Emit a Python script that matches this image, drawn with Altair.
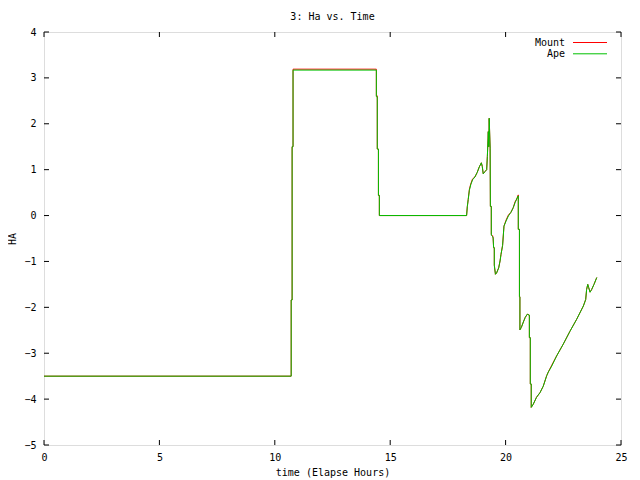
import altair as alt
import pandas as pd

# Ape track (time in elapsed hours, HA)
ape_t = [0, 10.71, 10.71, 10.75, 10.75, 10.79, 10.79, 14.40, 14.40, 14.44, 14.44, 14.49, 14.49, 14.53, 14.53,
         18.31, 18.34, 18.38, 18.43, 18.49, 18.57, 18.67, 18.77, 18.86, 18.95, 18.99, 19.03, 19.11, 19.18,
         19.21, 19.25, 19.27, 19.29, 19.33, 19.34, 19.38, 19.38, 19.44, 19.46, 19.48, 19.51, 19.51, 19.56,
         19.61, 19.70, 19.76, 19.80, 19.87, 19.93, 20.02, 20.12, 20.23, 20.33, 20.41, 20.48, 20.55, 20.55,
         20.60, 20.60, 20.62, 20.62, 20.68, 20.77, 20.85, 20.94, 21.03, 21.03, 21.07, 21.07, 21.11, 21.11,
         21.20, 21.34, 21.49, 21.63, 21.78, 21.85, 22.00, 22.21, 22.50, 22.79, 23.08, 23.37, 23.47, 23.51,
         23.56, 23.60, 23.66, 23.73, 23.83, 23.95]
ape_ha = [-3.5, -3.5, -1.84, -1.84, 1.5, 1.5, 3.17, 3.17, 2.59, 2.59, 1.45, 1.45, 0.44, 0.44, 0.0,
          0.0, 0.19, 0.35, 0.55, 0.67, 0.78, 0.84, 0.94, 1.06, 1.15, 1.07, 0.91, 0.96, 1.0,
          1.29, 1.83, 1.50, 2.12, 1.47, 0.2, 0.2, -0.43, -0.46, -0.49, -0.70, -0.70, -1.08, -1.28,
          -1.25, -1.14, -0.99, -0.85, -0.65, -0.23, -0.12, -0.01, 0.07, 0.17, 0.28, 0.36, 0.43, -0.30,
          -0.30, -1.77, -1.77, -2.49, -2.44, -2.32, -2.22, -2.15, -2.17, -2.66, -2.66, -3.67, -3.67, -4.18,
          -4.11, -3.96, -3.86, -3.72, -3.49, -3.41, -3.28, -3.06, -2.80, -2.52, -2.26, -1.97, -1.83, -1.61,
          -1.50, -1.57, -1.67, -1.61, -1.50, -1.35]

# Mount track (nearly identical)
mount_t = list(ape_t)
mount_ha = [-3.5, -3.5, -1.84, -1.84, 1.5, 1.5, 3.19, 3.19, 2.61, 2.61, 1.45, 1.45, 0.44, 0.44, 0.0,
            0.0, 0.19, 0.35, 0.57, 0.69, 0.80, 0.84, 0.94, 1.06, 1.15, 1.07, 0.91, 0.96, 1.0,
            1.29, 1.83, 1.50, 2.12, 1.47, 0.2, 0.2, -0.41, -0.44, -0.49, -0.70, -0.70, -1.08, -1.28,
            -1.25, -1.14, -0.99, -0.85, -0.65, -0.23, -0.10, 0.01, 0.07, 0.17, 0.30, 0.36, 0.45, -0.30,
            -0.30, -1.77, -1.77, -2.49, -2.44, -2.32, -2.22, -2.15, -2.17, -2.66, -2.66, -3.67, -3.67, -4.18,
            -4.11, -3.96, -3.86, -3.72, -3.49, -3.41, -3.26, -3.06, -2.80, -2.52, -2.26, -1.97, -1.83, -1.61,
            -1.50, -1.57, -1.67, -1.61, -1.50, -1.35]

x_ticks = [0, 5, 10, 15, 20, 25]
y_ticks = [-5, -4, -3, -2, -1, 0, 1, 2, 3, 4]
series_names = ["Mount", "Ape"]
series_colors = ["#ff0000", "#00c000"]

W, H = 577, 413
FONT = "DejaVu Sans Mono"
FS = 10
TL = 5

rows = []
for i, (t, h) in enumerate(zip(mount_t, mount_ha)):
    rows.append({"series": "Mount", "t": t, "ha": h, "o": i})
for i, (t, h) in enumerate(zip(ape_t, ape_ha)):
    rows.append({"series": "Ape", "t": t, "ha": h, "o": i})
df = pd.DataFrame(rows)

xs = alt.Scale(domain=[0, 25], nice=False, zero=False)
ys = alt.Scale(domain=[-5, 4], nice=False, zero=False)

lines = alt.Chart(df).mark_line(strokeWidth=1, interpolate="linear").encode(
    x=alt.X("t:Q", scale=xs,
            axis=alt.Axis(values=x_ticks, title="time (Elapse Hours)", grid=False, domain=False,
                          ticks=False, labelPadding=7, titlePadding=5, labelFont=FONT,
                          labelFontSize=FS, titleFont=FONT, titleFontSize=FS, titleFontWeight="normal",
                          labelColor="black", titleColor="black", labelFlush=False)),
    y=alt.Y("ha:Q", scale=ys,
            axis=alt.Axis(values=y_ticks, title="HA", grid=False, domain=False, ticks=False,
                          labelPadding=8, titlePadding=6, labelFont=FONT, labelFontSize=FS,
                          titleFont=FONT, titleFontSize=FS, titleFontWeight="normal",
                          labelColor="black", titleColor="black", labelFlush=False)),
    color=alt.Color("series:N", scale=alt.Scale(domain=series_names, range=series_colors), legend=None),
    detail="series:N",
    order="o:Q",
)

xt = pd.DataFrame({"v": x_ticks})
yt = pd.DataFrame({"v": y_ticks})
tick_x_bottom = alt.Chart(xt).mark_rule(color="black", strokeWidth=1).encode(
    x=alt.X("v:Q", scale=xs), y=alt.value(H), y2=alt.value(H - TL))
tick_x_top = alt.Chart(xt).mark_rule(color="black", strokeWidth=1).encode(
    x=alt.X("v:Q", scale=xs), y=alt.value(0), y2=alt.value(TL))
tick_y_left = alt.Chart(yt).mark_rule(color="black", strokeWidth=1).encode(
    y=alt.Y("v:Q", scale=ys), x=alt.value(0), x2=alt.value(TL))
tick_y_right = alt.Chart(yt).mark_rule(color="black", strokeWidth=1).encode(
    y=alt.Y("v:Q", scale=ys), x=alt.value(W), x2=alt.value(W - TL))

leg = pd.DataFrame({"series": series_names, "ly": [10.5, 21.8]})
leg_text = alt.Chart(leg).mark_text(align="right", baseline="middle", font=FONT, fontSize=FS,
                                    color="black").encode(
    text="series:N", x=alt.value(521), y=alt.Y("ly:Q", scale=None))
leg_line = alt.Chart(leg).mark_rule(strokeWidth=1).encode(
    x=alt.value(529), x2=alt.value(563), y=alt.Y("ly:Q", scale=None),
    color=alt.Color("series:N", scale=alt.Scale(domain=series_names, range=series_colors), legend=None))

chart = alt.layer(lines, tick_x_bottom, tick_x_top, tick_y_left, tick_y_right, leg_text, leg_line).properties(
    width=W, height=H,
    title=alt.TitleParams("3: Ha vs. Time", font=FONT, fontSize=FS, fontWeight="normal", color="black",
                          anchor="middle", offset=5),
    autosize=alt.AutoSizeParams(type="none"),
    padding={"left": 36, "top": 24, "right": 11, "bottom": 35},
).configure_view(stroke="black", strokeWidth=1).configure(background="white")

chart.save("out.html", embed_options={"renderer": "svg", "actions": False})
